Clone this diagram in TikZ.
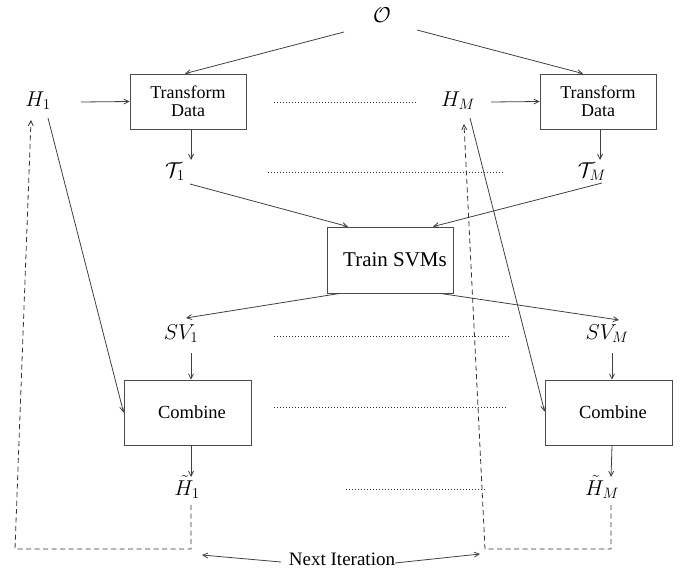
\RequirePackage{fix-cm}
\documentclass[tikz,border=0pt]{standalone}
\usepackage{fontspec}
\setmainfont{Liberation Serif}
\usetikzlibrary{arrows.meta}

\begin{document}
\begin{tikzpicture}[x=1pt,y=-1pt,
  line/.style={line width=0.8pt, draw=black!75},
  arr/.style={line, -{Straight Barb[length=5pt,width=5pt]}},
  dashline/.style={line, draw=black!80, dash pattern=on 5pt off 3.5pt},
  dotline/.style={line width=0.9pt, draw=black!80, dash pattern=on 0.9pt off 2.1pt},
  box/.style={draw=black!70, line width=0.8pt, inner sep=0pt},
  lbl/.style={inner sep=0pt, font=\fontsize{21.5}{25}\selectfont},
  boxtxt/.style={font=\fontsize{18}{17.5}\selectfont, align=center},
]
\useasboundingbox (0,0) rectangle (684,572);

% source set
\node[lbl] (O) at (382,15) {$\mathcal{O}$};

% first row: hypotheses and data transforms
\node[lbl] (H1) at (38,101) {$H_1$};
\node[lbl] (HM) at (458,101) {$H_M$};
\node[box, boxtxt, minimum width=116pt, minimum height=55pt] (tdL) at (188,101.5) {Transform\\Data};
\node[box, boxtxt, minimum width=116pt, minimum height=55pt] (tdR) at (598,101.5) {Transform\\Data};

% transformed training sets
\node[lbl] (T1) at (175,172) {$\mathcal{T}_1$};
\node[lbl] (TM) at (592,172) {$\mathcal{T}_M$};

% SVM training
\node[box, minimum width=126pt, minimum height=66pt, font=\fontsize{21}{25}\selectfont] (svm) at (390,260) {\hspace*{10pt}Train SVMs};

% support vector sets
\node[lbl] (SV1) at (181,334) {$SV_1$};
\node[lbl] (SVM) at (607,334) {$SV_M$};

% combination step
\node[box, minimum width=127pt, minimum height=65pt, font=\fontsize{18.5}{22}\selectfont] (cbL) at (187.5,412.5) {\hspace*{9pt}Combine};
\node[box, minimum width=127pt, minimum height=65pt, font=\fontsize{18.5}{22}\selectfont] (cbR) at (608.5,412.5) {\hspace*{9pt}Combine};

% updated hypotheses
\node[lbl] (Ht1) at (187,487) {$\tilde{H}_1$};
\node[lbl] (HtM) at (602,487) {$\tilde{H}_M$};

% feedback label
\node[inner sep=0pt, font=\fontsize{19}{23}\selectfont] (nx) at (342,559) {Next Iteration};
\coordinate (nl) at (202,555);
\coordinate (nr) at (480,554);
\coordinate (lc) at (15,549);
\coordinate (rc) at (485,549);

% solid arrows
\draw[arr] ([shift={(-38,17)}]O.center) -- ([shift={(-3,0)}]tdL.north);
\draw[arr] ([shift={(35,15)}]O.center) -- ([shift={(-15,0)}]tdR.north);
\draw[arr] ([shift={(43,1)}]H1.center) -- (tdL.west);
\draw[arr] ([shift={(33,1)}]HM.center) -- (tdR.west);
\draw[arr] ([shift={(3,0)}]tdL.south) -- ([shift={(16,-12)}]T1.center);
\draw[arr] ([shift={(2,0)}]tdR.south) -- ([shift={(8,-12)}]TM.center);
\draw[arr] ([shift={(15,12)}]T1.center) -- ([shift={(-42,0)}]svm.north);
\draw[arr] ([shift={(10,11)}]TM.center) -- ([shift={(43,0)}]svm.north);
\draw[arr] ([shift={(-50,0)}]svm.south) -- ([shift={(5,-16)}]SV1.center);
\draw[arr] ([shift={(50,0)}]svm.south) -- ([shift={(12,-14)}]SVM.center);
\draw[arr] ([shift={(10,19)}]SV1.center) -- ([shift={(3.5,0)}]cbL.north);
\draw[arr] ([shift={(5,19)}]SVM.center) -- ([shift={(3.5,0)}]cbR.north);
\draw[arr] ([shift={(3.5,0)}]cbL.south) -- ([shift={(4,-10)}]Ht1.center);
\draw[arr] ([shift={(3.5,0)}]cbR.south) -- ([shift={(9,-10)}]HtM.center);
\draw[arr] ([shift={(10,17)}]H1.center) -- (cbL.west);
\draw[arr] ([shift={(12,17)}]HM.center) -- ([shift={(0,-1)}]cbR.west);

% feedback loops
\draw[dashline, -{Straight Barb[length=5pt,width=5pt]}] ([shift={(4,18)}]Ht1.center) |- (lc) -- ([shift={(-7,19)}]H1.center);
\draw[dashline, -{Straight Barb[length=5pt,width=5pt]}] ([shift={(9,18)}]HtM.center) |- (rc) -- ([shift={(6,23)}]HM.center);
\draw[arr] ([shift={(-61,3)}]nx.center) -- (nl);
\draw[arr] ([shift={(53,4)}]nx.center) -- (nr);

% ellipsis rows
\draw[dotline] ([shift={(28,0.5)}]tdL.east) -- ([shift={(-42,1)}]HM.center);
\draw[dotline] ([shift={(93,0)}]T1.center) -- ([shift={(-89,0)}]TM.center);
\draw[dotline] ([shift={(93,2)}]SV1.center) -- ([shift={(-98,2)}]SVM.center);
\draw[dotline] ([shift={(23,-5.5)}]cbL.east) -- ([shift={(-38,-5.5)}]cbR.west);
\draw[dotline] ([shift={(159,2)}]Ht1.center) -- ([shift={(-117,2)}]HtM.center);
\end{tikzpicture}
\end{document}
